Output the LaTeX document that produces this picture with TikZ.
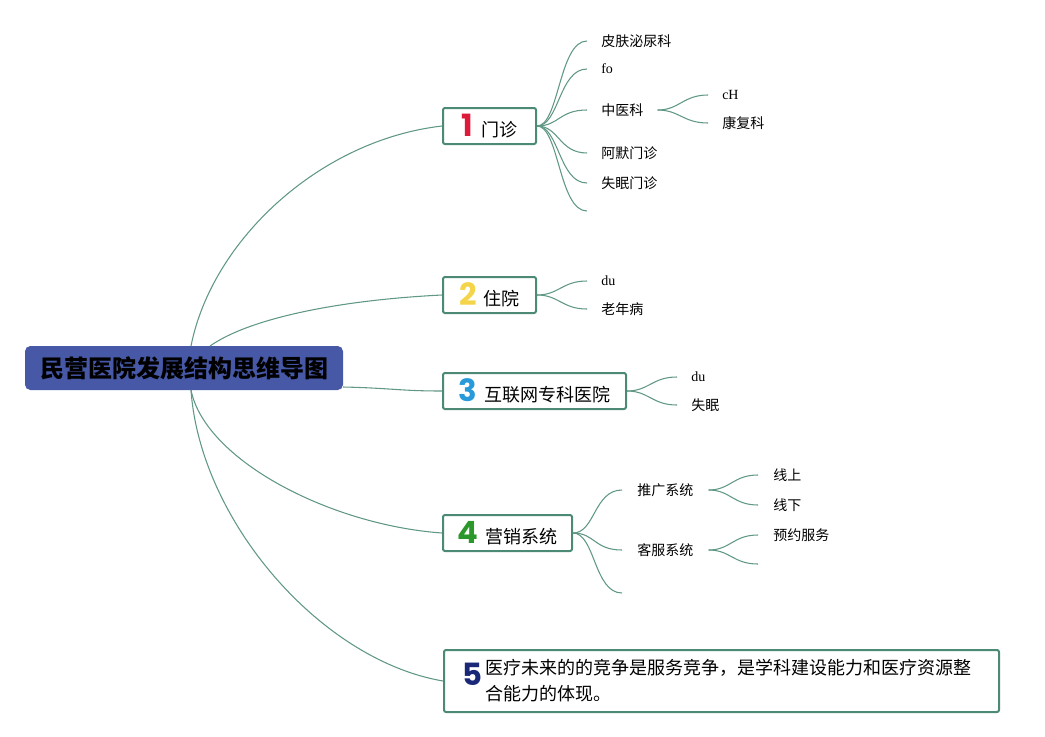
\documentclass[tikz,border=0pt]{standalone}
\usepackage{fontspec}
\setmainfont{Noto Sans CJK SC}
\newfontfamily\numf{Poppins}
\newfontfamily\latinserif{Liberation Serif}
\definecolor{rootc}{RGB}{70,88,166}
\definecolor{boxc}{RGB}{76,138,118}
\definecolor{linec}{RGB}{96,152,132}
\definecolor{c1}{RGB}{222,26,58}
\definecolor{c2}{RGB}{244,212,72}
\definecolor{c3}{RGB}{40,154,217}
\definecolor{c4}{RGB}{44,152,44}
\definecolor{c5}{RGB}{26,40,120}
\newcommand{\numtag}[2]{{\numf\bfseries\fontsize{23}{23}\selectfont\color{#1}#2}}
\begin{document}
\begin{tikzpicture}[x=0.75pt,y=-0.75pt,
  rootbox/.style={fill=rootc, rounded corners=4pt, minimum width=238.5pt, minimum height=33pt, inner sep=0pt, font=\bfseries\fontsize{18}{20}\selectfont, text=black},
  topicbox/.style={draw=boxc, line width=1.5pt, rounded corners=1.5pt, fill=white, minimum height=27pt, inner sep=0pt, font=\fontsize{13.5}{16}\selectfont},
  leaf/.style={anchor=west, inner xsep=10.5pt, inner ysep=2pt, font=\fontsize{10.5}{12}\selectfont},
  leafwide/.style={leaf, inner xsep=11.25pt},
  link/.style={draw=linec, line width=0.8pt}]
\useasboundingbox (0,0) rectangle (1045,736);

% root
\node[rootbox] (root) at (184,368) {民营医院发展结构思维导图};
\coordinate (rA) at (191,346);
\coordinate (rB) at (210,346);
\coordinate (rC) at (343,387);
\coordinate (rD) at (191,390);

% main topics
\node[topicbox, minimum width=69.75pt] (b1) at (489.5,126) {\numtag{c1}{1}\hspace{6.5pt}门诊};
\node[topicbox, minimum width=69.75pt] (b2) at (489.5,295) {\numtag{c2}{2}\hspace{5pt}住院};
\node[topicbox, minimum width=137.25pt] (b3) at (534.5,391) {\numtag{c3}{3}\hspace{5pt}互联网专科医院};
\node[topicbox, minimum width=96.75pt] (b4) at (507.5,533) {\numtag{c4}{4}\hspace{5pt}营销系统};
\node[topicbox, anchor=north west, minimum height=46.5pt, inner xsep=13.5pt, text width=389.25pt, align=left] (b5) at (443,649)
  {\numtag{c5}{5}\hspace{3pt}\parbox[c]{370pt}{\baselineskip=19.5pt 医疗未来的的竞争是服务竞争，是学科建设能力和医疗资源整\\合能力的体现。}};

\draw[link] (rA) .. controls (212,240) and (320,140) .. (b1.west);
\draw[link] (rB) .. controls (250,318) and (340,300) .. (b2.west);
\draw[link] (rC) .. controls (390,388) and (400,391) .. (b3.west);
\draw[link] (rD) .. controls (205,460) and (330,525) .. (b4.west);
\draw[link] (rD) .. controls (200,520) and (320,660) .. (b5.west);

% 门诊 children
\node[leaf] (m1) at (587,41) {皮肤泌尿科};
\node[leaf] (m2) at (587,69) {\latinserif fo};
\node[leaf] (m3) at (587,110) {中医科};
\node[leaf] (m4) at (587,153) {阿默门诊};
\node[leaf] (m5) at (587,183) {失眠门诊};
\coordinate (m6) at (587,211);
\foreach \t in {m1,m2,m3,m4,m5}
  \draw[link] (b1.east) .. controls +(22,0) and +(-28,0) .. (\t.west);
\draw[link] (b1.east) .. controls +(22,0) and +(-28,0) .. (m6);

\node[leaf] (z1) at (708,95) {\latinserif cH};
\node[leaf] (z2) at (708,123) {康复科};
\foreach \t in {z1,z2}
  \draw[link] (m3.east) .. controls +(22,0) and +(-25,0) .. (\t.west);

% 住院 children
\node[leaf] (h1) at (587,281) {\latinserif du};
\node[leaf] (h2) at (587,309) {老年病};
\foreach \t in {h1,h2}
  \draw[link] (b2.east) .. controls +(22,0) and +(-25,0) .. (\t.west);

% 互联网 children
\node[leaf] (i1) at (677,377) {\latinserif du};
\node[leaf] (i2) at (677,405) {失眠};
\foreach \t in {i1,i2}
  \draw[link] (b3.east) .. controls +(22,0) and +(-25,0) .. (\t.west);

% 营销 children
\node[leafwide] (s1) at (622,490) {推广系统};
\node[leafwide] (s2) at (622,550) {客服系统};
\coordinate (s3) at (622,593);
\foreach \t in {s1,s2}
  \draw[link] (b4.east) .. controls +(22,0) and +(-28,0) .. (\t.west);
\draw[link] (b4.east) .. controls +(22,0) and +(-28,0) .. (s3);

\node[leafwide] (p1) at (758,475) {线上};
\node[leafwide] (p2) at (758,505) {线下};
\foreach \t in {p1,p2}
  \draw[link] (s1.east) .. controls +(22,0) and +(-25,0) .. (\t.west);

\node[leafwide] (k1) at (758,535) {预约服务};
\coordinate (k2) at (758,564);
\draw[link] (s2.east) .. controls +(22,0) and +(-25,0) .. (k1.west);
\draw[link] (s2.east) .. controls +(22,0) and +(-25,0) .. (k2);
\end{tikzpicture}
\end{document}
